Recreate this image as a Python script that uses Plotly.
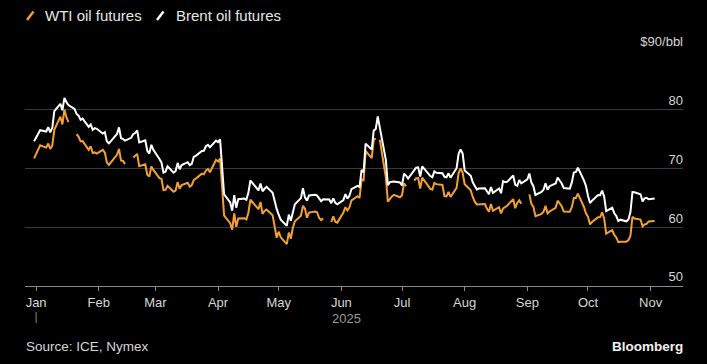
import plotly.graph_objects as go
import pandas as pd

# ---------------- data ----------------
dates = [
    "2024-12-31",
    "2025-01-02", "2025-01-03", "2025-01-06", "2025-01-07", "2025-01-08", "2025-01-09", "2025-01-10",
    "2025-01-13", "2025-01-14", "2025-01-15", "2025-01-16", "2025-01-17", "2025-01-20", "2025-01-21",
    "2025-01-22", "2025-01-23", "2025-01-24", "2025-01-27", "2025-01-28", "2025-01-29", "2025-01-30",
    "2025-01-31",
    "2025-02-03", "2025-02-04", "2025-02-05", "2025-02-06", "2025-02-07", "2025-02-10", "2025-02-11",
    "2025-02-12", "2025-02-13", "2025-02-14", "2025-02-17", "2025-02-18", "2025-02-19", "2025-02-20",
    "2025-02-21", "2025-02-24", "2025-02-25", "2025-02-26", "2025-02-27", "2025-02-28",
    "2025-03-03", "2025-03-04", "2025-03-05", "2025-03-06", "2025-03-07", "2025-03-10", "2025-03-11",
    "2025-03-12", "2025-03-13", "2025-03-14", "2025-03-17", "2025-03-18", "2025-03-19", "2025-03-20",
    "2025-03-21", "2025-03-24", "2025-03-25", "2025-03-26", "2025-03-27", "2025-03-28", "2025-03-31",
    "2025-04-01", "2025-04-02", "2025-04-03", "2025-04-04", "2025-04-07", "2025-04-08", "2025-04-09",
    "2025-04-10", "2025-04-11", "2025-04-14", "2025-04-15", "2025-04-16", "2025-04-17", "2025-04-21",
    "2025-04-22", "2025-04-23", "2025-04-24", "2025-04-25", "2025-04-28", "2025-04-29", "2025-04-30",
    "2025-05-01", "2025-05-02", "2025-05-05", "2025-05-06", "2025-05-07", "2025-05-08", "2025-05-09",
    "2025-05-12", "2025-05-13", "2025-05-14", "2025-05-15", "2025-05-16", "2025-05-19", "2025-05-20",
    "2025-05-21", "2025-05-22", "2025-05-23", "2025-05-26", "2025-05-27", "2025-05-28", "2025-05-29",
    "2025-05-30",
    "2025-06-02", "2025-06-03", "2025-06-04", "2025-06-05", "2025-06-06", "2025-06-09", "2025-06-10",
    "2025-06-11", "2025-06-12", "2025-06-13", "2025-06-16", "2025-06-17", "2025-06-18", "2025-06-19",
    "2025-06-20", "2025-06-23", "2025-06-24", "2025-06-25", "2025-06-26", "2025-06-27", "2025-06-30",
    "2025-07-01", "2025-07-02", "2025-07-03", "2025-07-04", "2025-07-07", "2025-07-08", "2025-07-09",
    "2025-07-10", "2025-07-11", "2025-07-14", "2025-07-15", "2025-07-16", "2025-07-17", "2025-07-18",
    "2025-07-21", "2025-07-22", "2025-07-23", "2025-07-24", "2025-07-25", "2025-07-28", "2025-07-29",
    "2025-07-30", "2025-07-31",
    "2025-08-01", "2025-08-04", "2025-08-05", "2025-08-06", "2025-08-07", "2025-08-08", "2025-08-11",
    "2025-08-12", "2025-08-13", "2025-08-14", "2025-08-15", "2025-08-18", "2025-08-19", "2025-08-20",
    "2025-08-21", "2025-08-22", "2025-08-25", "2025-08-26", "2025-08-27", "2025-08-28", "2025-08-29",
    "2025-09-01", "2025-09-02", "2025-09-03", "2025-09-04", "2025-09-05", "2025-09-08", "2025-09-09",
    "2025-09-10", "2025-09-11", "2025-09-12", "2025-09-15", "2025-09-16", "2025-09-17", "2025-09-18",
    "2025-09-19", "2025-09-22", "2025-09-23", "2025-09-24", "2025-09-25", "2025-09-26", "2025-09-29",
    "2025-09-30",
    "2025-10-01", "2025-10-02", "2025-10-03", "2025-10-06", "2025-10-07", "2025-10-08", "2025-10-09",
    "2025-10-10", "2025-10-13", "2025-10-14", "2025-10-15", "2025-10-16", "2025-10-17", "2025-10-20",
    "2025-10-21", "2025-10-22", "2025-10-23", "2025-10-24", "2025-10-27", "2025-10-28", "2025-10-29",
    "2025-10-30", "2025-10-31",
    "2025-11-03",
]

brent = [
    74.64,
    75.93, 76.51, 76.30, 77.05, 76.16, 76.92, 79.76,
    81.01, 79.92, 82.03, 81.29, 80.79, 80.15, 79.29,
    79.00, 78.29, 78.50, 77.08, 77.49, 76.58, 76.87,
    76.76,
    75.96, 76.20, 74.61, 74.29, 74.66, 75.87, 77.00,
    75.18, 75.02, 74.74, 75.22, 75.84, 76.04, 76.48,
    74.43, 74.78, 73.02, 72.53, 74.04, 73.18,
    71.62, 71.04, 69.30, 69.46, 70.36, 69.28, 69.56,
    70.95, 69.88, 70.58, 71.07, 70.56, 70.78, 72.00,
    72.16, 73.00, 73.02, 73.79, 74.03, 73.63, 74.74,
    74.49, 74.95, 70.14, 65.58, 64.21, 62.82, 65.48,
    63.33, 64.76, 64.88, 64.67, 65.85, 67.96, 66.26,
    67.44, 66.12, 66.55, 66.87, 65.86, 64.25, 63.12,
    62.13, 61.29, 60.23, 62.15, 61.12, 62.84, 63.91,
    64.96, 66.63, 65.09, 64.53, 65.41, 65.54, 65.38,
    64.91, 64.44, 64.78, 64.74, 64.09, 64.90, 64.15,
    63.90,
    64.63, 65.63, 64.86, 65.34, 66.47, 67.04, 66.87,
    69.77, 69.36, 74.23, 73.23, 76.45, 76.70, 78.85,
    77.01, 71.48, 67.14, 67.68, 67.73, 67.77, 67.61,
    67.11, 69.11, 68.80, 68.30, 69.58, 70.15, 70.19,
    68.64, 70.36, 69.21, 68.71, 68.52, 69.52, 69.28,
    69.21, 68.59, 68.51, 69.18, 68.44, 70.04, 72.51,
    73.24, 72.53,
    69.67, 68.76, 67.64, 66.89, 66.43, 66.59, 66.63,
    66.12, 65.63, 66.84, 65.85, 66.60, 65.79, 67.84,
    67.67, 67.73, 68.80, 67.22, 67.05, 68.05, 67.48,
    68.15, 69.14, 67.60, 66.99, 65.50, 66.02, 66.39,
    67.49, 66.37, 66.99, 67.44, 68.47, 67.95, 67.44,
    66.68, 66.57, 67.63, 69.31, 69.42, 70.13, 67.97,
    67.02,
    65.35, 64.11, 64.53, 65.47, 65.45, 66.25, 65.22,
    62.73, 63.32, 62.39, 61.91, 61.06, 61.29, 61.01,
    61.32, 62.59, 65.99, 65.94, 65.62, 64.40, 64.92,
    65.00, 64.77,
    64.89,
]

# None = no WTI settlement (US holiday) -> gap in the line
wti = [
    71.72,
    73.13, 73.96, 73.56, 74.25, 73.32, 73.92, 76.57,
    78.82, 77.50, 80.04, 78.68, 77.88, None, 75.83,
    75.44, 74.62, 74.66, 73.17, 73.77, 72.62, 72.73,
    72.53,
    73.16, 72.70, 71.03, 70.61, 71.00, 72.32, 73.32,
    71.37, 71.29, 70.74, None, 71.85, 72.25, 72.48,
    70.40, 70.70, 68.93, 68.62, 70.35, 69.76,
    68.37, 68.26, 66.31, 66.36, 67.04, 66.03, 66.25,
    67.68, 66.55, 67.18, 67.58, 66.90, 67.16, 68.07,
    68.28, 69.11, 69.00, 69.65, 69.92, 69.36, 71.48,
    71.20, 71.71, 66.95, 61.99, 60.70, 59.58, 62.35,
    60.07, 61.50, 61.53, 61.33, 62.47, 64.68, 63.08,
    64.31, 62.27, 62.79, 63.02, 62.05, 60.42, 58.21,
    59.24, 58.29, 57.13, 59.09, 58.07, 59.91, 61.02,
    61.95, 63.67, 63.15, 61.62, 62.49, 62.69, 62.56,
    61.57, 61.20, 61.53, None, 60.89, 61.84, 60.94,
    60.79,
    62.52, 63.41, 62.85, 63.37, 64.58, 65.29, 64.98,
    68.15, 67.99, 72.98, 71.77, 74.84, 75.14, None,
    74.93, 68.51, 64.37, 64.92, 65.24, 65.52, 65.11,
    65.45, 67.45, 67.00, None, 67.93, 68.33, 68.38,
    66.57, 68.45, 66.98, 66.52, 66.38, 67.54, 67.34,
    67.20, 65.31, 65.25, 66.03, 65.16, 66.71, 69.21,
    70.00, 69.26,
    67.33, 66.29, 65.16, 64.35, 63.88, 63.88, 63.96,
    63.17, 62.65, 63.96, 62.80, 63.42, 62.35, 63.21,
    63.52, 63.66, 64.80, 63.25, 64.15, 64.60, 64.01,
    None, 65.59, 63.97, 63.48, 61.87, 62.26, 62.63,
    63.67, 62.37, 62.69, 63.30, 64.52, 64.05, 63.57,
    62.68, 62.64, 63.41, 64.99, 64.98, 65.72, 63.45,
    62.37,
    61.78, 60.48, 60.88, 61.69, 61.73, 62.55, 61.51,
    58.90, 59.49, 58.70, 58.27, 57.46, 57.54, 57.52,
    57.82, 58.50, 61.79, 61.50, 61.31, 60.15, 60.48,
    60.57, 60.98,
    61.05,
]

series_names = ["WTI oil futures", "Brent oil futures"]
y_tick_vals = [50, 60, 70, 80, 90]
y_tick_text = ["50", "60", "70", "80", "$90/bbl"]
year_label = "2025"
source_text = "Source: ICE, Nymex"
brand_text = "Bloomberg"

# ---------------- style ----------------
W, H = 707, 364
ML, MR, MT, MB = 25, 24, 51, 78
ORANGE = "#f2a035"
WHITE = "#ffffff"
BG = "#000000"
GRID = "#3a3a3a"
AXIS = "#8a8a8a"
TXT = "#d6d6d6"
FONT = "Liberation Sans, Arial, sans-serif"


def px_x(px):
    return (px - ML) / (W - ML - MR)


def px_y(py):
    return (H - MB - py) / (H - MT - MB)


fig = go.Figure()
fig.add_trace(go.Scatter(x=dates, y=wti, name=series_names[0], mode="lines",
                         line=dict(color=ORANGE, width=2), connectgaps=False,
                         showlegend=False))
fig.add_trace(go.Scatter(x=dates, y=brent, name=series_names[1], mode="lines",
                         line=dict(color=WHITE, width=2), connectgaps=False,
                         showlegend=False))

d = pd.to_datetime(dates)
first_2025 = d[d >= "2025-01-01"].min()
mid = first_2025 + (d.max() - first_2025) / 2

fig.update_layout(
    width=W, height=H,
    margin=dict(l=ML, r=MR, t=MT, b=MB, pad=0),
    paper_bgcolor=BG, plot_bgcolor=BG,
    font=dict(family=FONT, color=TXT, size=13),
    showlegend=False,
    xaxis=dict(
        type="date",
        range=["2024-12-26 12:00", "2025-11-17"],
        tickformat="%b", dtick="M1", tick0="2025-01-01",
        ticks="outside", ticklen=4, tickwidth=1, tickcolor=AXIS,
        showline=True, linecolor=AXIS, linewidth=1,
        showgrid=False, zeroline=False,
        tickfont=dict(size=13, color=TXT),
    ),
    yaxis=dict(
        range=[50, 90], side="right",
        tickvals=y_tick_vals, ticktext=y_tick_text,
        ticklabelposition="inside top", ticklabeloverflow="allow",
        ticklabelstandoff=-3,
        ticks="", showgrid=True, gridcolor=GRID, gridwidth=1,
        zeroline=False, showline=False,
        tickfont=dict(size=13, color=TXT),
    ),
)

# legend drawn as slash icons + labels
fig.add_shape(type="line", xref="paper", yref="paper",
              x0=px_x(27), y0=px_y(20), x1=px_x(33.5), y1=px_y(11.5),
              line=dict(color=ORANGE, width=2.5))
fig.add_shape(type="line", xref="paper", yref="paper",
              x0=px_x(157), y0=px_y(20), x1=px_x(163.5), y1=px_y(11.5),
              line=dict(color=WHITE, width=2.5))
fig.add_annotation(text=series_names[0], xref="paper", yref="paper",
                   x=px_x(43), y=px_y(15.5), xanchor="left", yanchor="middle",
                   showarrow=False, font=dict(size=15, color="#e6e6e6"))
fig.add_annotation(text=series_names[1], xref="paper", yref="paper",
                   x=px_x(174), y=px_y(15.5), xanchor="left", yanchor="middle",
                   showarrow=False, font=dict(size=15, color="#e6e6e6"))

# year marker and label
fig.add_shape(type="line", xref="x", yref="paper",
              x0="2025-01-01", x1="2025-01-01", y0=px_y(312), y1=px_y(323),
              line=dict(color=AXIS, width=1))
fig.add_annotation(text=year_label, xref="x", yref="paper",
                   x=mid, y=px_y(318.5), xanchor="center", yanchor="middle",
                   showarrow=False, font=dict(size=13, color="#9a9a9a"))

# footer
fig.add_annotation(text=source_text, xref="paper", yref="paper",
                   x=px_x(24), y=px_y(346), xanchor="left", yanchor="middle",
                   showarrow=False, font=dict(size=13.5, color=TXT))
fig.add_annotation(text="<b>" + brand_text + "</b>", xref="paper", yref="paper",
                   x=px_x(685), y=px_y(346), xanchor="right", yanchor="middle",
                   showarrow=False, font=dict(size=13.5, color="#f0f0f0"))

fig.write_html(
    "out.html",
    config={"displayModeBar": False},
    post_script="document.body.style.margin='0';document.body.style.background='#000';",
)
